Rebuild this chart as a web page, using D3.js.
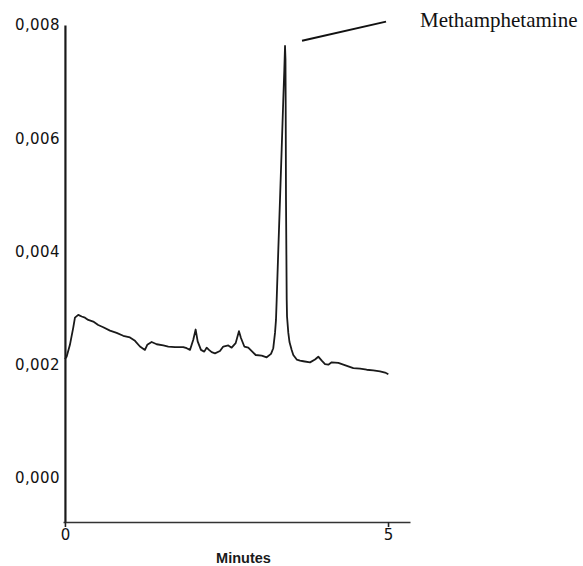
<!DOCTYPE html>
<html>
<head>
<meta charset="utf-8">
<script src="https://cdn.jsdelivr.net/npm/d3@7"></script>
<style>
    body { margin: 0; background: #fff; }
    svg { display: block; }
</style>
</head>
<body>
<div id="chart"></div>
<script>
// chromatogram trace: time (min) and absorbance
const minutes = [
    0.00, 0.026, 0.077, 0.128, 0.155, 0.206, 0.259, 0.310, 0.361, 0.438, 0.515, 0.593,
    0.697, 0.800, 0.902, 1.006, 1.084, 1.161, 1.238, 1.274, 1.342, 1.420, 1.522, 1.599,
    1.703, 1.831, 1.884, 1.935, 1.986, 2.023, 2.054, 2.105, 2.156, 2.193, 2.229, 2.271,
    2.322, 2.399, 2.450, 2.528, 2.580, 2.642, 2.693, 2.724, 2.776, 2.837, 2.899, 2.952,
    3.045, 3.122, 3.189, 3.224, 3.251, 3.266, 3.277, 3.302, 3.328, 3.354, 3.379, 3.395,
    3.406, 3.413, 3.416, 3.421, 3.432, 3.437, 3.457, 3.475, 3.509, 3.534, 3.587, 3.638,
    3.689, 3.793, 3.870, 3.921, 3.974, 4.025, 4.076, 4.128, 4.231, 4.308, 4.385, 4.463,
    4.567, 4.670, 4.772, 4.876, 4.954, 5.005
];
const absorbance = [
    0.00210, 0.00214, 0.00235, 0.00265, 0.00283, 0.00288, 0.00285, 0.00283, 0.00279, 0.00276, 0.00270, 0.00266,
    0.00260, 0.00256, 0.00251, 0.00248, 0.00242, 0.00232, 0.00226, 0.00235, 0.00240, 0.00236, 0.00234, 0.00232,
    0.00231, 0.00231, 0.00229, 0.00226, 0.00244, 0.00262, 0.00241, 0.00226, 0.00223, 0.00230, 0.00226, 0.00222,
    0.00220, 0.00224, 0.00232, 0.00234, 0.00230, 0.00238, 0.00259, 0.00247, 0.00232, 0.00230, 0.00223, 0.00217,
    0.00216, 0.00213, 0.00219, 0.00229, 0.00256, 0.00279, 0.00315, 0.00403, 0.00491, 0.00580, 0.00668, 0.00721,
    0.00763, 0.00739, 0.00668, 0.00491, 0.00315, 0.00285, 0.00256, 0.00240, 0.00226, 0.00217, 0.00209, 0.00207,
    0.00206, 0.00204, 0.00209, 0.00214, 0.00207, 0.00201, 0.00200, 0.00204, 0.00203, 0.00200, 0.00197, 0.00194,
    0.00193, 0.00191, 0.00190, 0.00188, 0.00186, 0.00183
];

const yTicks = [0, 0.002, 0.004, 0.006, 0.008];
const xTicks = [0, 5];

const peakLabel = "Methamphetamine";
// leader line from the peak to the label, in data units
const leaderMinutes = [3.669, 4.969];
const leaderAbs = [0.00772, 0.00806];

const width = 583, height = 566;

const svg = d3.select("#chart").append("svg")
    .attr("width", width)
    .attr("height", height);

const x = d3.scaleLinear().domain([-0.03, 5.34]).range([63, 410]);
const y = d3.scaleLinear().domain([-0.00078, 0.008]).range([522, 25]);

const commaFmt = d => d3.format(".3f")(d).replace(".", ",");

// y axis
const yAxis = svg.append("g")
    .attr("transform", `translate(${x(0)},0)`)
    .call(d3.axisLeft(y).tickValues(yTicks).tickSize(0).tickSizeOuter(0).tickPadding(5).tickFormat(commaFmt));
yAxis.select(".domain").attr("stroke", "#1a1a1a").attr("stroke-width", 2.2);
yAxis.selectAll("text")
    .attr("font-family", "DejaVu Sans, sans-serif")
    .attr("font-size", 15)
    .attr("letter-spacing", 0.4)
    .attr("fill", "#111");

// x axis
const xAxis = svg.append("g")
    .attr("transform", `translate(0,${y(-0.00078)})`)
    .call(d3.axisBottom(x).tickValues(xTicks).tickSize(5).tickSizeOuter(0).tickPadding(2).tickFormat(d3.format("d")));
xAxis.select(".domain").attr("stroke", "#333").attr("stroke-width", 1.6);
xAxis.selectAll(".tick line").attr("stroke", "#222").attr("stroke-width", 1.6);
xAxis.selectAll("text")
    .attr("font-family", "DejaVu Sans, sans-serif")
    .attr("font-size", 15)
    .attr("fill", "#111");

svg.append("text")
    .attr("x", (x(0) + x(5)) / 2 + 17)
    .attr("y", 563)
    .attr("text-anchor", "middle")
    .attr("font-family", "Liberation Sans, Arial, sans-serif")
    .attr("font-weight", "bold")
    .attr("font-size", 14.5)
    .attr("fill", "#1a1a1a")
    .text("Minutes");

// trace
const trace = minutes.map((m, i) => [m, absorbance[i]]);
const line = d3.line().x(d => x(d[0])).y(d => y(d[1]));

svg.append("path")
    .datum(trace)
    .attr("d", line)
    .attr("fill", "none")
    .attr("stroke", "#1a1a1a")
    .attr("stroke-width", 1.8)
    .attr("stroke-linejoin", "round");

// annotation
svg.append("line")
    .attr("x1", x(leaderMinutes[0])).attr("y1", y(leaderAbs[0]))
    .attr("x2", x(leaderMinutes[1])).attr("y2", y(leaderAbs[1]))
    .attr("stroke", "#111")
    .attr("stroke-width", 2);

svg.append("text")
    .attr("x", 420)
    .attr("y", 27)
    .attr("font-family", "Liberation Serif, Times New Roman, serif")
    .attr("font-size", 21)
    .attr("fill", "#111")
    .text(peakLabel);
</script>
</body>
</html>
